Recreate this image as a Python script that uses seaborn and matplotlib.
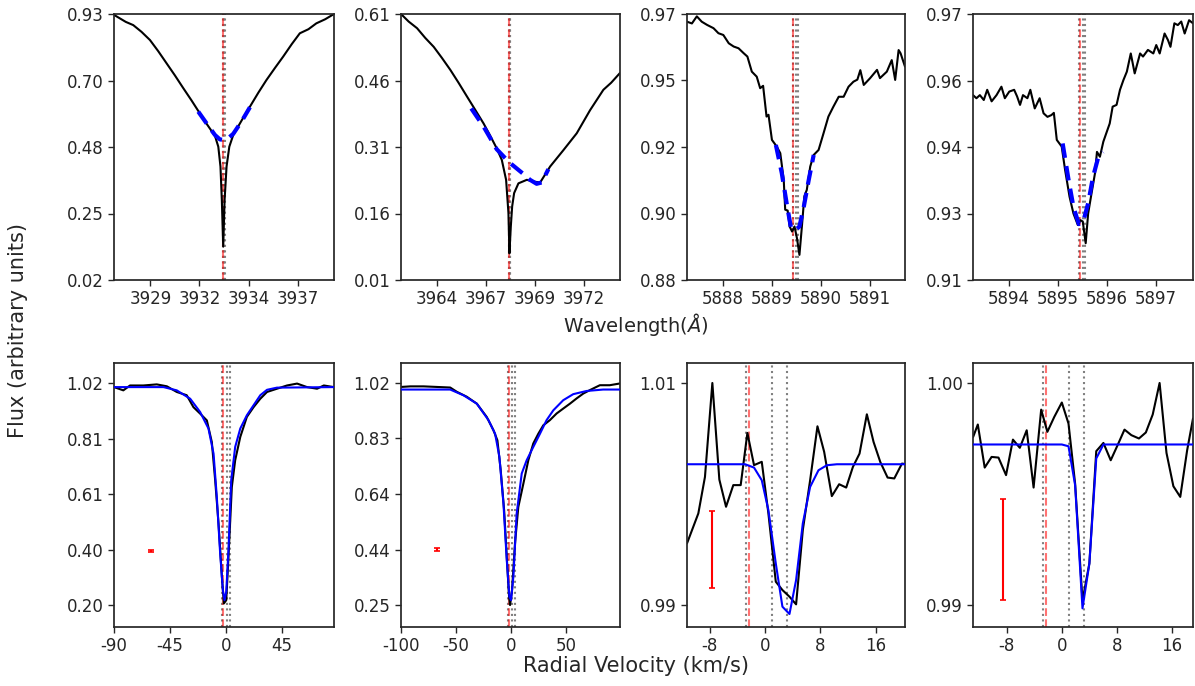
import numpy as np
import pandas as pd
import matplotlib
matplotlib.use("Agg")
import matplotlib.pyplot as plt
import seaborn as sns

sns.set_theme(style="ticks")
plt.rcParams['font.family'] = ['DejaVu Sans']

C_KMS = 299792.458

# ---------------- Top row: wavelength space ----------------
# Panel 1: Ca II K
w1 = [3927.40, 3927.70, 3928.00, 3928.38, 3928.80, 3929.23, 3929.65, 3930.08, 3930.50, 3930.93,
      3931.35, 3931.77, 3932.15, 3932.54, 3932.71, 3932.82, 3932.89, 3932.96, 3933.03, 3933.13,
      3933.27, 3933.47, 3933.90, 3934.32, 3934.75, 3935.16, 3935.60, 3936.01, 3936.45, 3936.86,
      3937.30, 3937.70, 3938.15, 3938.60]
f1 = [0.927, 0.915, 0.903, 0.892, 0.869, 0.841, 0.803, 0.761, 0.720, 0.676,
      0.634, 0.590, 0.551, 0.513, 0.476, 0.408, 0.294, 0.134, 0.294, 0.408,
      0.476, 0.516, 0.566, 0.613, 0.661, 0.704, 0.746, 0.784, 0.827, 0.864,
      0.878, 0.898, 0.912, 0.930]
fw1 = [3931.69, 3932.11, 3932.54, 3932.79, 3932.99, 3933.21, 3933.47, 3933.89, 3934.32]
ff1 = [0.596, 0.556, 0.516, 0.501, 0.499, 0.505, 0.520, 0.562, 0.611]

# Panel 2: Ca II H
w2 = [3962.46, 3962.85, 3963.28, 3963.70, 3964.13, 3964.55, 3964.98, 3965.40, 3965.83, 3966.25,
      3966.68, 3967.00, 3967.35, 3967.61, 3967.83, 3967.95, 3968.00, 3968.07, 3968.14, 3968.24,
      3968.46, 3968.89, 3969.23, 3969.57, 3970.08, 3970.76, 3971.44, 3972.12, 3972.80, 3973.20,
      3973.65]
f2 = [0.610, 0.593, 0.578, 0.556, 0.536, 0.511, 0.484, 0.455, 0.424, 0.394,
      0.363, 0.337, 0.307, 0.281, 0.236, 0.161, 0.070, 0.130, 0.176, 0.206,
      0.228, 0.236, 0.232, 0.230, 0.266, 0.303, 0.341, 0.393, 0.439, 0.455,
      0.477]
fw2 = [3966.05, 3966.68, 3967.35, 3968.00, 3968.72, 3969.05, 3969.39, 3969.65, 3969.99]
ff2 = [0.397, 0.356, 0.305, 0.275, 0.249, 0.236, 0.227, 0.230, 0.260]

# Panel 3: Na I D2
w3 = [5887.27, 5887.37, 5887.47, 5887.57, 5887.68, 5887.81, 5887.91, 5888.01, 5888.12, 5888.22,
      5888.32, 5888.42, 5888.50, 5888.59, 5888.69, 5888.76, 5888.82, 5888.89, 5888.93, 5889.00,
      5889.10, 5889.17, 5889.24, 5889.27, 5889.32, 5889.36, 5889.41, 5889.46, 5889.51, 5889.56,
      5889.61, 5889.66, 5889.71, 5889.78, 5889.85, 5889.95, 5890.05, 5890.15, 5890.25, 5890.36,
      5890.46, 5890.56, 5890.66, 5890.74, 5890.80, 5890.87, 5891.00, 5891.14, 5891.20, 5891.34,
      5891.44, 5891.51, 5891.58, 5891.62, 5891.71]
f3 = [0.9674, 0.9668, 0.9692, 0.9674, 0.9663, 0.9652, 0.9635, 0.9629, 0.9601, 0.9590,
      0.9584, 0.9568, 0.9556, 0.9505, 0.9488, 0.9449, 0.9457, 0.9353, 0.9359, 0.9274,
      0.9251, 0.9229, 0.9139, 0.9038, 0.9035, 0.8981, 0.8964, 0.8981, 0.8941, 0.8885,
      0.8981, 0.9083, 0.9105, 0.9184, 0.9223, 0.9240, 0.9296, 0.9353, 0.9386, 0.9420,
      0.9420, 0.9454, 0.9471, 0.9478, 0.9510, 0.9460, 0.9483, 0.9511, 0.9483, 0.9505,
      0.9544, 0.9477, 0.9578, 0.9567, 0.9522]
fw3 = [5889.08, 5889.20, 5889.31, 5889.39, 5889.48, 5889.56, 5889.65, 5889.75, 5889.85]
ff3 = [0.9257, 0.9162, 0.9049, 0.8975, 0.8969, 0.8981, 0.9049, 0.9139, 0.9223]

# Panel 4: Na I D1
w4 = [5893.27, 5893.34, 5893.41, 5893.49, 5893.56, 5893.65, 5893.75, 5893.85, 5893.92, 5894.01,
      5894.11, 5894.17, 5894.23, 5894.29, 5894.38, 5894.44, 5894.53, 5894.63, 5894.71, 5894.79,
      5894.87, 5894.92, 5894.98, 5895.08, 5895.15, 5895.24, 5895.32, 5895.41, 5895.46, 5895.51,
      5895.57, 5895.62, 5895.69, 5895.76, 5895.80, 5895.86, 5895.93, 5895.99, 5896.06, 5896.12,
      5896.20, 5896.27, 5896.34, 5896.41, 5896.49, 5896.57, 5896.68, 5896.74, 5896.84, 5896.95,
      5897.01, 5897.08, 5897.18, 5897.25, 5897.30, 5897.38, 5897.45, 5897.52, 5897.59, 5897.68,
      5897.76]
f4 = [0.9517, 0.9510, 0.9517, 0.9506, 0.9529, 0.9503, 0.9517, 0.9536, 0.9510, 0.9525,
      0.9529, 0.9514, 0.9495, 0.9517, 0.9510, 0.9529, 0.9487, 0.9510, 0.9476, 0.9468,
      0.9472, 0.9477, 0.9416, 0.9401, 0.9348, 0.9288, 0.9250, 0.9224, 0.9235, 0.9232,
      0.9183, 0.9250, 0.9296, 0.9341, 0.9389, 0.9378, 0.9412, 0.9431, 0.9453, 0.9491,
      0.9495, 0.9529, 0.9551, 0.9570, 0.9611, 0.9566, 0.9611, 0.9604, 0.9619, 0.9611,
      0.9630, 0.9611, 0.9656, 0.9641, 0.9626, 0.9679, 0.9675, 0.9683, 0.9656, 0.9686,
      0.9679]
fw4 = [5895.10, 5895.22, 5895.32, 5895.43, 5895.52, 5895.62, 5895.72, 5895.83, 5895.92]
ff4 = [0.9408, 0.9326, 0.9265, 0.9226, 0.9232, 0.9273, 0.9333, 0.9378, 0.9389]

top_rest = [3933.00, 3968.01, 5889.475, 5895.495]
top_xlim = [(3927.40, 3938.60), (3962.46, 3973.65), (5887.27, 5891.71), (5893.27, 5897.76)]
top_ylim = [(0.02, 0.93), (0.01, 0.61), (0.88, 0.97), (0.91, 0.97)]
top_xticks = [[3929.25, 3931.75, 3934.25, 3936.75],
              [3964.30, 3966.80, 3969.30, 3971.80],
              [5888, 5889, 5890, 5891],
              [5894, 5895, 5896, 5897]]
top_xticklabels = [["3929", "3932", "3934", "3937"],
                   ["3964", "3967", "3969", "3972"],
                   ["5888", "5889", "5890", "5891"],
                   ["5894", "5895", "5896", "5897"]]
top_yticklabels = [["0.02", "0.25", "0.48", "0.70", "0.93"],
                   ["0.01", "0.16", "0.31", "0.46", "0.61"],
                   ["0.88", "0.90", "0.92", "0.95", "0.97"],
                   ["0.91", "0.93", "0.94", "0.96", "0.97"]]

# ---------------- Bottom row: velocity space ----------------
v1 = [-90, -82.5, -77.1, -66.4, -55.6, -47.5, -39.5, -31.5, -26.1, -20.7,
      -15.3, -11.3, -8.6, -5.9, -3.2, -1.6, 0.3, 2.1, 4.8, 7.5,
      11.6, 16.9, 22.3, 27.7, 33.1, 41.1, 49.2, 57.3, 65.3, 73.4,
      78.8, 86.9]
g1 = [1.005, 0.993, 1.011, 1.011, 1.015, 1.008, 0.987, 0.975, 0.931, 0.907,
      0.882, 0.802, 0.661, 0.501, 0.305, 0.206, 0.218, 0.378, 0.636, 0.735,
      0.821, 0.895, 0.931, 0.962, 0.987, 0.999, 1.011, 1.018, 1.005, 0.999,
      1.011, 1.005]
fv1 = [-90, -50.2, -39.5, -28.7, -20.7, -14.0, -9.9, -7.3, -4.6, -2.4,
       -1.1, 0.3, 2.1, 4.3, 7.5, 11.6, 16.9, 22.3, 27.7, 33.1,
       41.1, 86.9]
fg1 = [1.005, 1.005, 0.993, 0.962, 0.913, 0.852, 0.759, 0.600, 0.391, 0.255,
       0.218, 0.249, 0.403, 0.661, 0.784, 0.852, 0.901, 0.938, 0.975, 0.995,
       1.003, 1.005]

v2 = [-100, -91.5, -79.5, -67.4, -55.3, -49.2, -40.2, -31.1, -22.1, -16.0,
      -12.4, -9.4, -6.3, -3.9, -1.8, -0.9, 0.9, 3.6, 6.6, 11.2,
      15.7, 20.2, 24.8, 29.3, 35.3, 41.4, 47.4, 53.5, 59.5, 65.6,
      71.6, 80.7, 89.7, 98.8]
g2 = [1.006, 1.008, 1.008, 1.006, 1.004, 0.989, 0.972, 0.948, 0.902, 0.856,
      0.821, 0.717, 0.579, 0.417, 0.279, 0.250, 0.302, 0.464, 0.590, 0.671,
      0.752, 0.810, 0.844, 0.873, 0.891, 0.914, 0.931, 0.948, 0.966, 0.983,
      0.995, 1.012, 1.012, 1.018]
fv2 = [-100, -55.3, -43.2, -31.1, -20.5, -14.5, -10.6, -6.9, -3.9, -1.5,
       0.0, 2.1, 5.1, 9.7, 14.2, 20.2, 26.3, 32.3, 38.4, 47.4,
       56.5, 68.6, 83.7, 98.8]
fg2 = [0.997, 0.997, 0.977, 0.948, 0.891, 0.844, 0.764, 0.602, 0.406, 0.279,
       0.267, 0.348, 0.567, 0.706, 0.752, 0.798, 0.844, 0.891, 0.925, 0.960,
       0.981, 0.992, 0.997, 0.997]

v3 = [-11.3, -9.66, -8.70, -7.63, -6.62, -5.65, -4.60, -3.53, -2.56, -1.60,
      -0.48, 0.48, 1.55, 2.51, 3.53, 4.49, 5.46, 6.52, 7.58, 8.55,
      9.66, 10.72, 11.74, 12.71, 13.67, 14.73, 15.70, 16.67, 17.73, 18.70,
      19.81, 20.25]
g3 = [0.99555, 0.99825, 1.00154, 1.01000, 1.00130, 0.99885, 1.00080, 1.00080, 1.00550, 1.00260,
      1.00290, 0.99825, 0.99210, 0.99135, 0.99075, 0.99006, 0.99675, 1.00124, 1.00610, 1.00380,
      0.99981, 1.00088, 1.00058, 1.00244, 1.00364, 1.00718, 1.00469, 1.00289, 1.00148, 1.00140,
      1.00274, 1.00270]
fv3 = [-11.3, -2.9, -1.6, -0.48, 0.48, 1.55, 2.51, 3.53, 4.49, 5.46,
       6.52, 7.73, 8.94, 10.39, 20.25]
fg3 = [1.00268, 1.00268, 1.00238, 1.00124, 0.99855, 0.99375, 0.98985, 0.98919, 0.99225, 0.99735,
       1.00064, 1.00214, 1.00259, 1.00268, 1.00268]

v4 = [-12.88, -12.2, -11.2, -10.2, -9.2, -8.1, -7.1, -6.1, -5.1, -4.1,
      -3.0, -2.1, -1.1, 0.0, 0.97, 1.93, 3.0, 4.0, 5.0, 6.04,
      7.1, 8.1, 9.1, 10.1, 11.2, 12.2, 13.2, 14.2, 15.2, 16.2,
      17.2, 18.2, 19.05]
g4 = [0.99757, 0.99813, 0.99619, 0.99667, 0.99664, 0.99585, 0.99745, 0.99708, 0.99787, 0.99529,
      0.99880, 0.99780, 0.99847, 0.99912, 0.99817, 0.99547, 0.99020, 0.99187, 0.99693, 0.99730,
      0.99652, 0.99720, 0.99790, 0.99765, 0.99750, 0.99777, 0.99858, 1.00000, 0.99685, 0.99535,
      0.99487, 0.99697, 0.99840]
fv4 = [-12.88, 0.0, 0.97, 1.93, 3.0, 4.0, 5.0, 6.04, 19.05]
fg4 = [0.99723, 0.99723, 0.99715, 0.99540, 0.98985, 0.99187, 0.99660, 0.99723, 0.99723]

bot_xlim = [(-90, 87), (-100, 99), (-11.3, 20.25), (-12.9, 19.05)]
bot_ylim = [(0.119, 1.094), (0.174, 1.089), (0.98802, 1.0118), (0.98901, 1.0009)]
bot_xticks = [[-90, -45, 0, 45], [-100, -50, 0, 50], [-8, 0, 8, 16], [-8, 0, 8, 16]]
bot_yticks = [[0.20, 0.405, 0.61, 0.815, 1.02], [0.25, 0.4425, 0.635, 0.8275, 1.02],
              [0.99, 1.01], [0.99, 1.00]]
bot_yticklabels = [["0.20", "0.40", "0.61", "0.81", "1.02"],
                   ["0.25", "0.44", "0.64", "0.83", "1.02"],
                   ["0.99", "1.01"], ["0.99", "1.00"]]
err_x = [-60.2, -67.1, -7.63, -8.6]
err_y = [0.40, 0.443, 0.995, 0.9925]
err_e = [0.005, 0.005, 0.0035, 0.00226]

gray_v = [-2.8, 1.0, 3.2]
red_v = -2.3

# ---------------- Figure ----------------
fig = plt.figure(figsize=(11.95, 6.86), dpi=100)
W, H = 1195.0, 686.0
cols = [(114, 334), (401, 620), (687, 905), (973, 1193)]
top_px = (14, 280)
bot_px = (363, 627)

def rect(c, r):
    x0, x1 = c
    y0, y1 = r
    return [x0 / W, 1 - y1 / H, (x1 - x0) / W, (y1 - y0) / H]

top_spec = [(w1, f1, fw1, ff1), (w2, f2, fw2, ff2), (w3, f3, fw3, ff3), (w4, f4, fw4, ff4)]
bot_spec = [(v1, g1, fv1, fg1), (v2, g2, fv2, fg2), (v3, g3, fv3, fg3), (v4, g4, fv4, fg4)]

tick_fs = 12
for i in range(4):
    ax = fig.add_axes(rect(cols[i], top_px))
    w, f, fw, ff = top_spec[i]
    for v in gray_v:
        ax.axvline(top_rest[i] * (1 + v / C_KMS), color="gray", ls=":", lw=1.5, zorder=1)
    ax.axvline(top_rest[i] * (1 + red_v / C_KMS), color="red", ls="--", lw=1.5, alpha=0.55, zorder=1)
    sns.lineplot(x=w, y=f, ax=ax, color="black", lw=1.5, sort=False, estimator=None, zorder=2)
    sns.lineplot(x=fw, y=ff, ax=ax, color="blue", lw=3, sort=False, estimator=None, zorder=3)
    ax.lines[-1].set_linestyle((0, (3.5, 2.0)))
    ax.set_xlim(*top_xlim[i])
    ax.set_ylim(*top_ylim[i])
    ax.set_xticks(top_xticks[i])
    ax.set_xticklabels(top_xticklabels[i])
    ax.set_yticks(np.linspace(top_ylim[i][0], top_ylim[i][1], 5))
    ax.set_yticklabels(top_yticklabels[i])
    ax.tick_params(labelsize=tick_fs, length=4, width=1)
    ax.set_xlabel("")
    ax.set_ylabel("")

for i in range(4):
    ax = fig.add_axes(rect(cols[i], bot_px))
    v, g, fv, fg = bot_spec[i]
    for vv in gray_v:
        ax.axvline(vv, color="gray", ls=":", lw=1.5, zorder=1)
    ax.axvline(red_v, color="red", ls="--", lw=1.5, alpha=0.55, zorder=1)
    sns.lineplot(x=v, y=g, ax=ax, color="black", lw=1.5, sort=False, estimator=None, zorder=2)
    sns.lineplot(x=fv, y=fg, ax=ax, color="blue", lw=1.5, sort=False, estimator=None, zorder=3)
    ax.errorbar([err_x[i]], [err_y[i]], yerr=[err_e[i]], color="red", capsize=2.2,
                elinewidth=1.5, capthick=1.2, fmt="none", zorder=4)
    ax.set_xlim(*bot_xlim[i])
    ax.set_ylim(*bot_ylim[i])
    ax.set_xticks(bot_xticks[i])
    ax.set_xticklabels([str(t) for t in bot_xticks[i]])
    ax.set_yticks(bot_yticks[i])
    ax.set_yticklabels(bot_yticklabels[i])
    ax.tick_params(labelsize=tick_fs, length=4, width=1)
    ax.set_xlabel("")
    ax.set_ylabel("")

fig.text(636 / W, 1 - 325 / H, r"Wavelength($\AA$)", ha="center", va="center", fontsize=14)
fig.text(636 / W, 1 - 666 / H, "Radial Velocity (km/s)", ha="center", va="center", fontsize=15)
fig.text(18 / W, 1 - 330 / H, "Flux (arbitrary units)", ha="center", va="center",
         rotation=90, fontsize=15)

fig.savefig("out.png", dpi=100)
